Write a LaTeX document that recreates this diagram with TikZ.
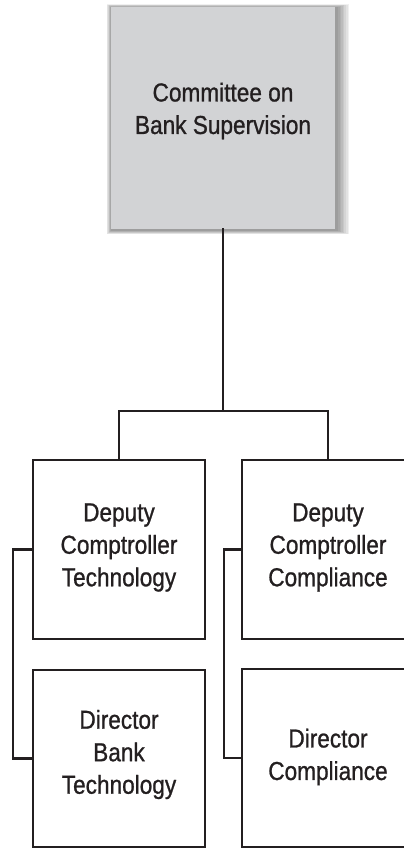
\documentclass[tikz,border=0pt]{standalone}
\usepackage{fontspec}
\setmainfont{Liberation Sans}[FakeStretch=0.87,FakeBold=0.9]
\begin{document}
\begin{tikzpicture}[x=1pt,y=-1pt,
  ink/.style={draw=linecol,line width=2.8pt},
  unit/.style={ink,rectangle,inner sep=0pt,minimum width=172pt},
  lbl/.style={align=center,text=linecol,inner sep=0pt,
    font=\fontsize{26}{32.5}\selectfont},
  link/.style={ink,line cap=rect}]
\definecolor{linecol}{HTML}{231F20}
\definecolor{boxgray}{HTML}{D2D3D5}
\useasboundingbox (0,0) rectangle (404,849);
\begin{scope}
\clip (0,0) rectangle (404,849);

% soft shadow behind the committee box, heavier to the lower right
\foreach \k in {0,...,7}
  \fill[black,opacity=0.06]
    (111-0.6*\k,7-0.4*\k) rectangle (338+1.6*\k,231+0.45*\k);

% committee box
\node[rectangle,fill=boxgray,inner sep=0pt,minimum width=224pt,
      minimum height=222pt] (cbs) at (223,118) {};
\node[lbl] (cbst) at ([yshift=7pt]cbs.center) {Committee on\\Bank Supervision};

% second level
\node[unit,minimum height=179pt] (dt) at (119,549.5) {};
\node[lbl] (dtt) at ([yshift=2pt]dt.center) {Deputy\\Comptroller\\Technology};
\node[unit,minimum height=179pt] (dc) at (328,549.5) {};
\node[lbl] (dct) at ([yshift=2pt]dc.center) {Deputy\\Comptroller\\Compliance};

% third level
\node[unit,minimum height=177pt] (db) at (119,758.5) {};
\node[lbl] (dbt) at ([yshift=4pt]db.center) {Director\\Bank\\Technology};
\node[unit,minimum height=178pt] (dm) at (328,758) {};
\node[lbl] (dmt) at ([yshift=1pt]dm.center) {Director\\Compliance};

% connectors
\coordinate (bar) at (223,411);
\coordinate (lrail) at (13,0);
\coordinate (rrail) at (224,0);
\draw[link] (cbs.south) -- (bar);
\draw[link] (dt.north) |- (bar) -| (dc.north);
\draw[link] (dt.west) -- (dt.west -| lrail) -- (db.west -| lrail) -- (db.west);
\draw[link] (dc.west) -- (dc.west -| rrail) -- (dm.west -| rrail) -- (dm.west);
\end{scope}
\end{tikzpicture}
\end{document}
